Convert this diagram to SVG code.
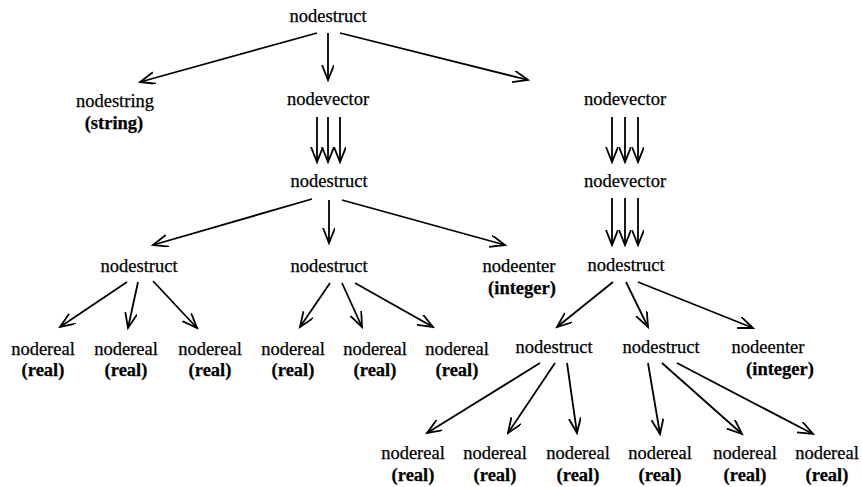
<svg xmlns="http://www.w3.org/2000/svg" width="862" height="487" viewBox="0 0 862 487">
  <style>
    text { font-family: "Liberation Serif", "Times New Roman", serif; font-size: 18.5px; fill: #000; stroke: #000; stroke-width: 0.25; text-anchor: middle; }
    .t { font-weight: bold; }
    .e line { stroke: #000; stroke-width: 1.8; marker-end: url(#ah); }
  </style>
  <defs>
    <marker id="ah" markerUnits="userSpaceOnUse" markerWidth="18" markerHeight="14" refX="15" refY="6" orient="auto">
      <path d="M0,0 L15,6 L0,12" fill="none" stroke="#000" stroke-width="1.8"/>
    </marker>
  </defs>
  <rect width="862" height="487" fill="#fff"/>

  <g class="e" id="connectors">
    <line x1="317" y1="33" x2="140" y2="82"/>
    <line x1="328" y1="33" x2="328" y2="80"/>
    <line x1="340" y1="33" x2="528" y2="80"/>
    <line x1="317" y1="117" x2="317" y2="162"/>
    <line x1="328" y1="117" x2="328" y2="162"/>
    <line x1="340" y1="117" x2="340" y2="162"/>
    <line x1="612" y1="117" x2="612" y2="162"/>
    <line x1="625" y1="117" x2="625" y2="162"/>
    <line x1="638" y1="117" x2="638" y2="162"/>
    <line x1="612" y1="198" x2="612" y2="245"/>
    <line x1="625" y1="198" x2="625" y2="245"/>
    <line x1="638" y1="198" x2="638" y2="245"/>
    <line x1="312" y1="199" x2="153" y2="245"/>
    <line x1="329" y1="200" x2="329" y2="243"/>
    <line x1="342" y1="200" x2="505" y2="245"/>
    <line x1="127" y1="282" x2="60" y2="327"/>
    <line x1="138" y1="282" x2="128" y2="328"/>
    <line x1="153" y1="281" x2="197" y2="328"/>
    <line x1="330" y1="283" x2="300" y2="327"/>
    <line x1="342" y1="283" x2="362" y2="327"/>
    <line x1="355" y1="283" x2="433" y2="327"/>
    <line x1="613" y1="282" x2="557" y2="327"/>
    <line x1="626" y1="282" x2="648" y2="327"/>
    <line x1="638" y1="282" x2="753" y2="328"/>
    <line x1="540" y1="363" x2="427" y2="433"/>
    <line x1="555" y1="363" x2="508" y2="433"/>
    <line x1="567" y1="363" x2="577" y2="433"/>
    <line x1="648" y1="363" x2="660" y2="434"/>
    <line x1="662" y1="363" x2="742" y2="434"/>
    <line x1="677" y1="363" x2="813" y2="434"/>
  </g>

  <g id="root"><text x="328" y="22">nodestruct</text></g>
  <g id="string1"><text x="115" y="107">nodestring</text><text class="t" x="114" y="129">(string)</text></g>
  <g id="vec1"><text x="328" y="105">nodevector</text></g>
  <g id="vec2"><text x="625" y="105">nodevector</text></g>
  <g id="struct1"><text x="329" y="187">nodestruct</text></g>
  <g id="vec3"><text x="625" y="187">nodevector</text></g>
  <g id="struct2"><text x="139" y="272">nodestruct</text></g>
  <g id="struct3"><text x="329" y="272">nodestruct</text></g>
  <g id="enter1"><text x="519" y="272">nodeenter</text><text class="t" x="522" y="294">(integer)</text></g>
  <g id="struct4"><text x="626" y="271">nodestruct</text></g>

  <g id="real1"><text x="43" y="355">nodereal</text><text class="t" x="43" y="376">(real)</text></g>
  <g id="real2"><text x="126" y="355">nodereal</text><text class="t" x="126" y="376">(real)</text></g>
  <g id="real3"><text x="210" y="355">nodereal</text><text class="t" x="210" y="376">(real)</text></g>
  <g id="real4"><text x="293" y="355">nodereal</text><text class="t" x="293" y="376">(real)</text></g>
  <g id="real5"><text x="375" y="355">nodereal</text><text class="t" x="375" y="376">(real)</text></g>
  <g id="real6"><text x="457" y="355">nodereal</text><text class="t" x="457" y="376">(real)</text></g>
  <g id="struct5"><text x="554" y="353">nodestruct</text></g>
  <g id="struct6"><text x="661" y="353">nodestruct</text></g>
  <g id="enter2"><text x="768" y="353">nodeenter</text><text class="t" x="780" y="375">(integer)</text></g>

  <g id="real7"><text x="413" y="459">nodereal</text><text class="t" x="413" y="481">(real)</text></g>
  <g id="real8"><text x="495" y="459">nodereal</text><text class="t" x="495" y="481">(real)</text></g>
  <g id="real9"><text x="578" y="459">nodereal</text><text class="t" x="578" y="481">(real)</text></g>
  <g id="real10"><text x="660" y="459">nodereal</text><text class="t" x="660" y="481">(real)</text></g>
  <g id="real11"><text x="745" y="459">nodereal</text><text class="t" x="745" y="481">(real)</text></g>
  <g id="real12"><text x="827" y="459">nodereal</text><text class="t" x="827" y="481">(real)</text></g>
</svg>
